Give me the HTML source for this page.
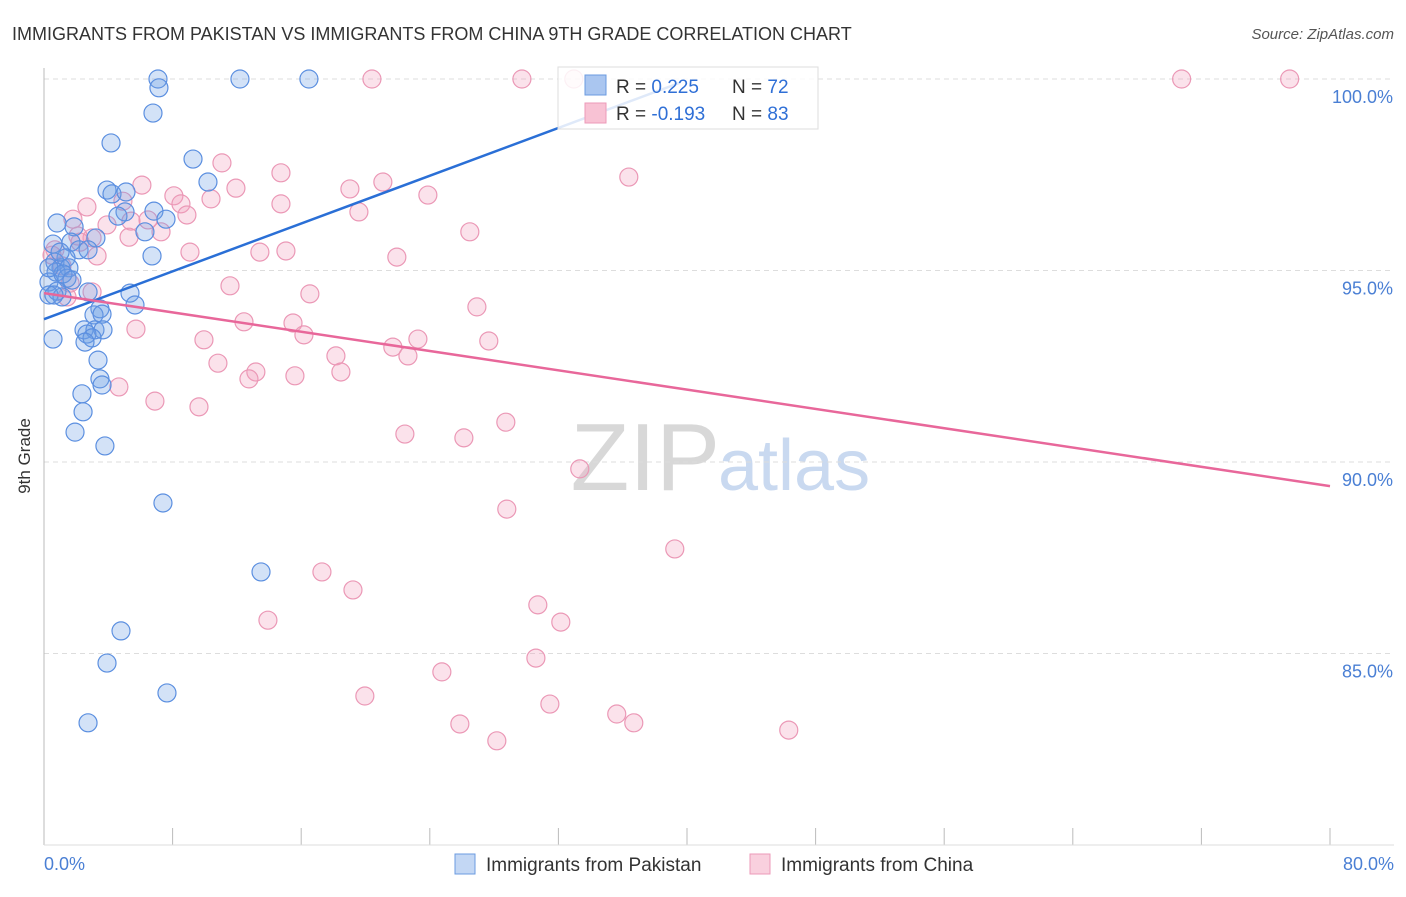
<!DOCTYPE html>
<html><head><meta charset="utf-8"><style>
body{margin:0;background:#fff;font-family:"Liberation Sans",sans-serif;}
svg text{font-family:"Liberation Sans",sans-serif;}
</style></head><body>
<svg id="c" width="1406" height="892" viewBox="0 0 1406 892">
<text x="12" y="40" font-size="18" fill="#333">IMMIGRANTS FROM PAKISTAN VS IMMIGRANTS FROM CHINA 9TH GRADE CORRELATION CHART</text>
<text x="1394" y="39" font-size="15" fill="#555" font-style="italic" text-anchor="end">Source: ZipAtlas.com</text>
<text x="720" y="490" font-size="96" fill="#d8d8d8" font-family="Liberation Serif,serif" text-anchor="end">ZIP</text>
<text x="718" y="490" font-size="72" fill="#c9d9f0">atlas</text>
<g id="grid"></g>
<line x1="44" y1="68" x2="44" y2="845" stroke="#bbb"/>
<line x1="44" y1="845" x2="1394" y2="845" stroke="#ddd"/>
<text x="30" y="456" font-size="17" fill="#333" transform="rotate(-90 30 456)" text-anchor="middle">9th Grade</text>
<text x="44" y="870" font-size="18" fill="#4a7fd4">0.0%</text>
<text x="1394" y="870" font-size="18" fill="#4a7fd4" text-anchor="end">80.0%</text>
<g id="pts"></g>
<g id="trend"></g>
<g>
<rect x="558" y="67" width="260" height="62" fill="#fff" fill-opacity="0.85" stroke="#ddd"/>
<rect x="585" y="75" width="21" height="20" fill="#aac6f0" stroke="#6b9be0"/>
<rect x="585" y="103" width="21" height="20" fill="#f8c2d4" stroke="#ec9ab8"/>
<text x="616" y="93" font-size="19" fill="#333">R = <tspan fill="#2f6fd6"> 0.225</tspan></text>
<text x="732" y="93" font-size="19" fill="#333">N = <tspan fill="#2f6fd6">72</tspan></text>
<text x="616" y="120" font-size="19" fill="#333">R = <tspan fill="#2f6fd6">-0.193</tspan></text>
<text x="732" y="120" font-size="19" fill="#333">N = <tspan fill="#2f6fd6">83</tspan></text>
</g>
<g>
<rect x="455" y="854" width="20" height="20" fill="#c3d7f4" stroke="#6b9be0"/>
<text x="486" y="871" font-size="19" fill="#333">Immigrants from Pakistan</text>
<rect x="750" y="854" width="20" height="20" fill="#f9d0de" stroke="#ec9ab8"/>
<text x="781" y="871" font-size="19" fill="#333">Immigrants from China</text>
</g>
</svg>
<script>
const yTicks=[100,95,90,85];
const xTickVals=[0,8,16,24,32,40,48,56,64,72,80];
const pakX=[7.09,12.19,16.48,7.15,6.78,4.17,9.27,10.2,3.92,4.23,5.10,5.04,4.60,6.84,7.59,0.81,1.87,6.28,3.23,1.68,0.56,2.18,6.72,1.37,0.68,1.06,1.55,0.75,1.43,0.31,0.81,0.31,2.74,5.35,1.12,5.66,3.48,3.11,3.61,2.49,3.17,3.67,2.67,2.99,0.56,2.55,3.36,3.48,3.61,2.36,2.43,1.93,3.79,7.40,13.5,4.79,3.92,7.65,2.74,0.62,1.0,2.74,1.18,1.74,0.31];
const pakY=[100,100,100,99.77,99.11,98.33,97.91,97.31,97.10,97.0,97.05,96.53,96.42,96.55,96.34,96.24,96.14,96.01,95.85,95.74,95.69,95.54,95.38,95.33,95.22,95.07,95.07,94.96,94.80,94.70,94.46,94.36,94.44,94.41,94.31,94.10,94.0,93.84,93.86,93.45,93.45,93.45,93.34,93.24,93.21,93.13,92.66,92.17,92.01,91.78,91.31,90.78,90.42,88.93,87.13,85.59,84.75,83.97,83.19,94.36,95.48,95.54,94.91,94.75,95.07];
const chX=[20.40,29.73,32.96,70.77,77.49,36.38,11.07,14.74,6.09,11.94,19.03,21.08,23.88,8.08,10.39,8.52,14.74,4.91,2.67,1.80,8.89,19.59,6.47,3.92,5.41,7.28,26.49,5.29,2.99,2.24,0.68,9.08,13.43,15.05,3.30,21.95,11.57,16.54,26.93,1.43,12.44,15.49,5.72,16.17,9.95,23.26,21.70,27.67,22.64,18.16,10.82,13.18,18.47,15.61,12.75,4.66,6.90,9.64,22.45,26.12,28.73,33.33,28.79,39.24,17.29,19.22,30.72,13.93,32.15,30.60,24.75,19.96,31.47,25.87,35.63,36.69,28.17,46.33,1.12,1.62,2.99,0.50,2.11];
const chY=[100,100,100,100,100,97.44,97.81,97.55,97.23,97.15,97.13,97.31,96.97,96.95,96.87,96.74,96.74,96.81,96.66,96.34,96.45,96.53,96.32,96.19,96.29,96.01,96.01,95.87,95.85,95.74,95.54,95.48,95.48,95.51,95.38,95.35,94.60,94.39,94.05,94.31,93.66,93.63,93.47,93.32,93.19,93.21,93.0,93.16,92.77,92.77,92.58,92.35,92.35,92.25,92.17,91.96,91.59,91.44,90.73,90.63,91.04,89.82,88.77,87.73,87.13,86.66,86.27,85.87,85.82,84.88,84.52,83.89,83.68,83.16,83.42,83.19,82.72,83.0,95.12,94.67,94.44,95.40,95.90];
const pakTrend=[[0,93.73],[39.55,99.9]];
const chTrend=[[0,94.41],[80,89.37]];
const NS='http://www.w3.org/2000/svg';
function sx(v){return 44+v/80*1286;}
function sy(v){return 79+(100-v)*38.3;}
function mk(tag,attrs,parent){const e=document.createElementNS(NS,tag);for(const k in attrs)e.setAttribute(k,attrs[k]);parent.appendChild(e);return e;}
const grid=document.getElementById('grid');
yTicks.forEach(t=>{
  const l=mk('line',{x1:44,x2:1394,y1:sy(t),y2:sy(t),stroke:'#ddd','stroke-dasharray':'5,4'},grid);
  
  
  const tx=mk('text',{x:1393,y:sy(t)+24,'font-size':18,fill:'#4a7fd4','text-anchor':'end'},grid);
  tx.textContent=t.toFixed(1)+'%';
  
  
});
xTickVals.forEach(t=>{
  const l=mk('line',{x1:sx(t),x2:sx(t),y1:828,y2:845,stroke:'#bbb'},grid);
  
  
});
const pts=document.getElementById('pts');
chX.forEach((x,i)=>{
  const c=mk('circle',{cx:sx(x),cy:sy(chY[i]),r:9,fill:'rgba(242,160,190,0.3)',stroke:'#eb98b6','stroke-width':1.2},pts);
  
  
});
pakX.forEach((x,i)=>{
  const c=mk('circle',{cx:sx(x),cy:sy(pakY[i]),r:9,fill:'rgba(110,160,230,0.3)',stroke:'#5b8fe0','stroke-width':1.2},pts);
  
  
});
const tr=document.getElementById('trend');
const l1=mk('line',{x1:sx(pakTrend[0][0]),y1:sy(pakTrend[0][1]),x2:sx(pakTrend[1][0]),y2:sy(pakTrend[1][1]),stroke:'#2a6fd6','stroke-width':2.5},tr);


const l2=mk('line',{x1:sx(chTrend[0][0]),y1:sy(chTrend[0][1]),x2:sx(chTrend[1][0]),y2:sy(chTrend[1][1]),stroke:'#e8679a','stroke-width':2.5},tr);


</script>
</body></html>
